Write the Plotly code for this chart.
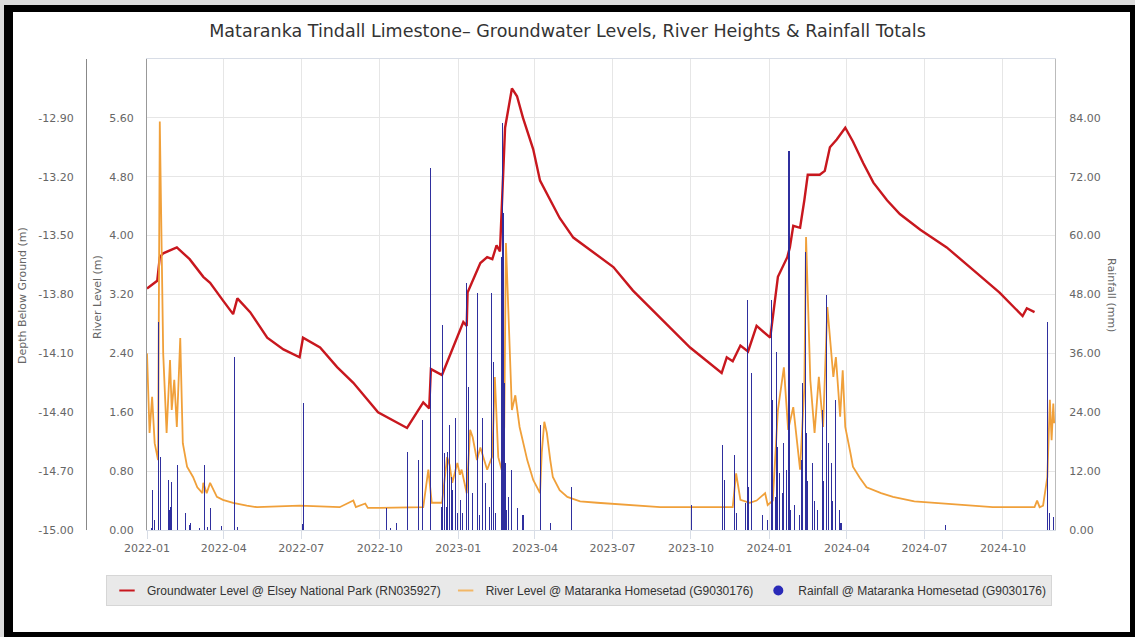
import plotly.graph_objects as go

# ---------------- data ----------------
gw_dates = [
    "2022-01-01", "2022-01-13", "2022-01-16", "2022-01-20", "2022-02-05", "2022-02-20",
    "2022-03-08", "2022-03-16", "2022-03-31", "2022-04-12", "2022-04-17", "2022-05-02",
    "2022-05-22", "2022-06-10", "2022-06-29", "2022-07-03", "2022-07-23", "2022-08-12",
    "2022-08-31", "2022-09-29", "2022-11-02", "2022-11-21", "2022-11-28", "2022-11-30",
    "2022-12-13", "2023-01-07", "2023-01-11", "2023-01-12", "2023-01-27", "2023-02-04",
    "2023-02-10", "2023-02-15", "2023-02-19", "2023-02-25", "2023-03-05", "2023-03-11",
    "2023-03-18", "2023-03-30", "2023-04-07", "2023-04-19", "2023-04-30", "2023-05-16",
    "2023-06-01", "2023-07-02", "2023-07-25", "2023-08-26", "2023-09-30", "2023-11-06",
    "2023-11-12", "2023-11-19", "2023-11-28", "2023-12-07", "2023-12-17", "2024-01-02",
    "2024-01-08", "2024-01-11", "2024-01-22", "2024-01-25", "2024-01-29", "2024-02-06",
    "2024-02-11", "2024-02-15", "2024-02-29", "2024-03-06", "2024-03-12", "2024-03-20",
    "2024-03-30", "2024-04-08", "2024-04-20", "2024-05-02", "2024-05-18", "2024-06-02",
    "2024-06-26", "2024-07-27", "2024-08-31", "2024-09-27", "2024-10-24", "2024-10-29",
    "2024-11-07",
]
gw_depth = [
    -13.77, -13.73, -13.61, -13.59, -13.56, -13.62,
    -13.71, -13.74, -13.83, -13.90, -13.82, -13.89,
    -14.02, -14.08, -14.12, -14.02, -14.07, -14.17,
    -14.25, -14.40, -14.48, -14.35, -14.38, -14.18,
    -14.21, -13.94, -13.96, -13.79, -13.64, -13.61,
    -13.62, -13.55, -13.58, -12.95, -12.75, -12.79,
    -12.90, -13.06, -13.22, -13.32, -13.41, -13.51,
    -13.56, -13.66, -13.78, -13.92, -14.07, -14.20,
    -14.12, -14.14, -14.06, -14.09, -13.96, -14.02,
    -13.83, -13.71, -13.61, -13.56, -13.45, -13.46,
    -13.32, -13.19, -13.19, -13.17, -13.05, -13.01,
    -12.95, -13.02, -13.13, -13.23, -13.32, -13.39,
    -13.47, -13.56, -13.69, -13.79, -13.91, -13.87,
    -13.89,
]

river_dates = [
    "2022-01-01", "2022-01-04", "2022-01-07", "2022-01-10", "2022-01-14", "2022-01-16",
    "2022-01-20", "2022-01-24", "2022-01-28", "2022-01-30", "2022-02-02", "2022-02-05",
    "2022-02-09", "2022-02-12", "2022-02-17", "2022-02-24", "2022-03-01", "2022-03-07",
    "2022-03-08", "2022-03-12", "2022-03-16", "2022-03-24", "2022-03-31", "2022-04-12",
    "2022-04-28", "2022-05-10", "2022-06-29", "2022-08-15", "2022-08-31", "2022-09-03",
    "2022-09-14", "2022-09-17", "2022-10-01", "2022-11-21", "2022-11-27", "2022-12-01",
    "2022-12-13", "2022-12-19", "2022-12-22", "2022-12-25", "2022-12-31", "2023-01-03",
    "2023-01-05", "2023-01-11", "2023-01-15", "2023-01-18", "2023-01-23", "2023-01-27",
    "2023-02-04", "2023-02-10", "2023-02-13", "2023-02-17", "2023-02-21", "2023-02-24",
    "2023-02-26", "2023-02-28", "2023-03-05", "2023-03-09", "2023-03-14", "2023-03-23",
    "2023-03-30", "2023-04-07", "2023-04-09", "2023-04-12", "2023-04-15", "2023-04-19",
    "2023-04-22", "2023-04-30", "2023-05-09", "2023-05-24", "2023-06-13", "2023-08-26",
    "2023-11-19", "2023-11-23", "2023-11-28", "2023-12-09", "2023-12-17", "2023-12-27",
    "2023-12-30", "2024-01-05", "2024-01-11", "2024-01-18", "2024-01-23", "2024-01-29",
    "2024-02-06", "2024-02-11", "2024-02-13", "2024-02-18", "2024-02-23", "2024-02-28",
    "2024-03-04", "2024-03-09", "2024-03-11", "2024-03-16", "2024-03-19", "2024-03-24",
    "2024-03-27", "2024-03-30", "2024-04-05", "2024-04-08", "2024-04-16", "2024-04-24",
    "2024-05-11", "2024-05-25", "2024-06-19", "2024-07-11", "2024-09-19", "2024-11-07",
    "2024-11-10", "2024-11-13", "2024-11-17", "2024-11-22", "2024-11-25", "2024-11-27",
    "2024-11-29", "2024-11-30",
]
river_level = [
    2.40, 1.32, 1.81, 1.18, 0.95, 5.55,
    2.40, 1.32, 2.31, 1.63, 2.04, 1.40,
    2.61, 1.18, 0.86, 0.72, 0.58, 0.50,
    0.64, 0.50, 0.64, 0.45, 0.41, 0.37,
    0.33, 0.31, 0.33, 0.31, 0.40, 0.31,
    0.36, 0.30, 0.30, 0.31, 0.82, 0.37,
    0.37, 0.99, 0.88, 0.64, 0.91, 0.75,
    0.82, 0.50, 1.36, 1.26, 0.95, 1.12,
    0.82, 1.00, 2.08, 0.99, 0.82, 1.40,
    3.90, 3.22, 1.63, 1.83, 1.40, 0.95,
    0.68, 0.50, 1.05, 1.47, 1.32, 0.95,
    0.72, 0.54, 0.45, 0.39, 0.37, 0.31,
    0.31, 0.77, 0.41, 0.37, 0.40, 0.50,
    0.34, 0.40, 1.63, 2.21, 1.36, 1.67,
    0.82, 1.94, 3.98, 2.04, 1.32, 2.08,
    1.40, 3.03, 2.76, 2.08, 2.35, 1.54,
    2.17, 1.40, 1.05, 0.86, 0.71, 0.58,
    0.50, 0.45, 0.39, 0.37, 0.31, 0.31,
    0.40, 0.31, 0.33, 0.72, 1.77, 1.22,
    1.72, 1.45,
]

rain_dates = [
    "2022-01-06", "2022-01-08", "2022-01-10", "2022-01-14", "2022-01-15", "2022-01-17",
    "2022-01-26", "2022-01-27", "2022-01-29", "2022-01-30", "2022-02-06", "2022-02-15",
    "2022-02-20", "2022-02-21", "2022-03-04", "2022-03-10", "2022-03-13", "2022-03-16",
    "2022-03-29", "2022-04-14", "2022-04-17", "2022-07-02", "2022-07-03", "2022-10-09",
    "2022-10-14", "2022-10-21", "2022-11-02", "2022-11-16", "2022-11-20", "2022-11-29",
    "2022-12-13", "2022-12-14", "2022-12-16", "2022-12-18", "2022-12-20", "2022-12-22",
    "2022-12-24", "2022-12-25", "2022-12-29", "2022-12-31", "2023-01-04", "2023-01-06",
    "2023-01-11", "2023-01-13", "2023-01-18", "2023-01-24", "2023-01-26", "2023-01-30",
    "2023-02-02", "2023-02-07", "2023-02-09", "2023-02-11", "2023-02-14", "2023-02-21",
    "2023-02-22", "2023-02-23", "2023-02-24", "2023-02-26", "2023-02-27", "2023-03-01",
    "2023-03-04", "2023-03-12", "2023-03-18", "2023-04-08", "2023-04-19", "2023-05-14",
    "2023-10-02", "2023-11-07", "2023-11-09", "2023-11-21", "2023-11-23", "2023-12-04",
    "2023-12-06", "2023-12-07", "2023-12-11", "2023-12-24", "2023-12-30", "2024-01-04",
    "2024-01-05", "2024-01-08", "2024-01-09", "2024-01-11", "2024-01-13", "2024-01-16",
    "2024-01-18", "2024-01-21", "2024-01-24", "2024-01-26", "2024-01-30", "2024-02-05",
    "2024-02-08", "2024-02-09", "2024-02-12", "2024-02-14", "2024-02-15", "2024-02-20",
    "2024-02-23", "2024-02-27", "2024-03-03", "2024-03-05", "2024-03-08", "2024-03-10",
    "2024-03-14", "2024-03-15", "2024-03-18", "2024-03-23", "2024-03-25", "2024-07-25",
    "2024-11-22", "2024-11-24", "2024-11-29",
]
rain_mm = [
    0.4, 8.1, 2.0, 42.4, 8.0, 14.9,
    10.2, 4.0, 4.7, 9.8, 13.2, 3.5,
    1.0, 1.4, 0.4, 13.2, 0.6, 4.5,
    0.8, 35.2, 0.6, 1.2, 25.9, 4.5,
    0.4, 1.4, 15.9, 14.3, 22.4, 73.8,
    4.7, 41.8, 15.7, 4.7, 15.9, 21.4,
    10.8, 8.1, 22.8, 3.5, 6.1, 3.5,
    50.3, 29.1, 7.5, 48.3, 3.0, 22.8,
    9.6, 4.7, 48.3, 34.2, 3.5, 55.6,
    82.9, 64.6, 30.0, 13.7, 4.1, 6.7,
    12.2, 4.5, 3.1, 21.4, 1.4, 8.8,
    5.1, 17.3, 10.2, 15.3, 3.5, 5.5,
    46.9, 8.8, 32.0, 3.0, 2.0, 46.9,
    26.5, 6.7, 36.3, 16.9, 11.6, 7.5,
    17.7, 12.2, 77.2, 4.0, 5.0, 3.0,
    14.3, 30.0, 56.6, 19.8, 10.0, 13.7,
    6.0, 4.0, 24.5, 10.0, 47.9, 17.7,
    13.7, 6.0, 26.5, 4.1, 1.4, 1.0,
    42.4, 3.5, 2.6,
]

x_tick_vals = [
    "2022-01-01", "2022-04-01", "2022-07-01", "2022-10-01", "2023-01-01", "2023-04-01",
    "2023-07-01", "2023-10-01", "2024-01-01", "2024-04-01", "2024-07-01", "2024-10-01",
]
x_tick_text = [
    "2022-01", "2022-04", "2022-07", "2022-10", "2023-01", "2023-04",
    "2023-07", "2023-10", "2024-01", "2024-04", "2024-07", "2024-10",
]
depth_ticks = [-15.0, -14.7, -14.4, -14.1, -13.8, -13.5, -13.2, -12.9]
river_ticks = [0.0, 0.8, 1.6, 2.4, 3.2, 4.0, 4.8, 5.6]
rain_ticks = [0, 12, 24, 36, 48, 60, 72, 84]

TITLE = "Mataranka Tindall Limestone\u2013 Groundwater Levels, River Heights & Rainfall Totals"
GW_NAME = "Groundwater Level @ Elsey National Park (RN035927)"
RIVER_NAME = "River Level @ Mataranka Homesetad (G9030176)"
RAIN_NAME = "Rainfall @ Mataranka Homesetad (G9030176)"

# ---------------- layout geometry ----------------
W, H = 1135, 637
ML, MR, MT, MB = 20, 80, 59, 107
PW, PH = W - ML - MR, H - MT - MB


def px(xp):
    return (xp - ML) / PW


def py(yp):
    return (H - MB - yp) / PH


RED = "#c8171e"
ORANGE = "#f0a03a"
NAVY = "rgba(40, 40, 155, 0.97)"
GRID = "#e6e6e6"
BASE_FONT = "DejaVu Sans, Verdana, sans-serif"
TICK_FONT = dict(family=BASE_FONT, size=11, color="#666666")
AX_TITLE_FONT = dict(family=BASE_FONT, size=11, color="#666666")

fig = go.Figure()

fig.add_trace(go.Scatter(
    x=gw_dates, y=gw_depth, name=GW_NAME, mode="lines",
    line=dict(color=RED, width=2.4), yaxis="y", showlegend=False,
))
fig.add_trace(go.Scatter(
    x=river_dates, y=river_level, name=RIVER_NAME, mode="lines",
    line=dict(color=ORANGE, width=1.8), yaxis="y2", showlegend=False,
))
fig.add_trace(go.Bar(
    x=rain_dates, y=rain_mm, name=RAIN_NAME, yaxis="y3",
    width=86400000 * 1.2, marker=dict(color=NAVY, line=dict(width=0)),
    showlegend=False,
))

# legend entries
fig.add_trace(go.Scatter(
    x=[None], y=[None], name=GW_NAME, mode="markers", yaxis="y",
    marker=dict(symbol="line-ew", size=11, line=dict(color=RED, width=2)),
))
fig.add_trace(go.Scatter(
    x=[None], y=[None], name=RIVER_NAME, mode="markers", yaxis="y",
    marker=dict(symbol="line-ew", size=11, line=dict(color="#f2b766", width=2)),
))
fig.add_trace(go.Scatter(
    x=[None], y=[None], name=RAIN_NAME, mode="markers", yaxis="y",
    marker=dict(symbol="circle", size=10, color="#2a2ab8"),
))

fig.update_layout(
    width=W, height=H,
    margin=dict(l=ML, r=MR, t=MT, b=MB),
    paper_bgcolor="white", plot_bgcolor="white",
    bargap=0,
    title=dict(
        text=TITLE, x=0.5, xref="container", xanchor="center",
        y=1 - 31 / H, yref="container", yanchor="middle",
        font=dict(family=BASE_FONT, size=17.5, color="#333333"),
    ),
    xaxis=dict(
        domain=[px(147), 1], type="date",
        range=["2022-01-01", "2024-12-01"],
        tickvals=x_tick_vals, ticktext=x_tick_text,
        tickfont=TICK_FONT, showgrid=True, gridcolor=GRID, gridwidth=1,
        showline=True, linecolor="#d8dde6", mirror=True,
        ticks="outside", ticklen=8, tickcolor="#d8dde6",
        zeroline=False, automargin=False,
    ),
    yaxis=dict(
        anchor="free", position=px(86), side="left",
        range=[-15.0, -12.6], tickvals=depth_ticks,
        ticktext=[f"-{abs(v):.2f}" for v in depth_ticks],
        tickfont=TICK_FONT, ticklabelstandoff=10,
        showgrid=True, gridcolor=GRID, zeroline=False,
        showline=True, linecolor="#888888", linewidth=1, automargin=False,
    ),
    yaxis2=dict(
        overlaying="y", anchor="x", side="left",
        range=[0, 6.4], tickvals=river_ticks,
        ticktext=[f"{v:.2f}" for v in river_ticks],
        tickfont=TICK_FONT, ticklabelstandoff=10,
        showgrid=False, zeroline=False,
        showline=True, linecolor="#999999", linewidth=1, automargin=False,
    ),
    yaxis3=dict(
        overlaying="y", anchor="x", side="right",
        range=[0, 96], tickvals=rain_ticks,
        ticktext=[f"{v:.2f}" for v in rain_ticks],
        tickfont=TICK_FONT, ticklabelstandoff=11,
        showgrid=False, zeroline=False,
        showline=True, linecolor="#bbbbbb", linewidth=1, automargin=False,
    ),
    legend=dict(
        orientation="h", x=px(579), xanchor="center", y=py(590.5), yanchor="middle",
        bgcolor="#e9e9e9", bordercolor="#d6d6d6", borderwidth=1,
        font=dict(family="Liberation Sans, Arial, sans-serif", size=12, color="#333333"),
        itemwidth=30,
    ),
    showlegend=True,
)

# axis titles
for label, xp, yp, angle in [
    ("Depth Below Ground (m)", 22, 296, -90),
    ("River Level (m)", 97, 297, -90),
    ("Rainfall (mm)", 1112, 295, 90),
]:
    fig.add_annotation(text=label, x=px(xp), y=py(yp), xref="paper", yref="paper",
                       xanchor="center", yanchor="middle",
                       textangle=angle, showarrow=False, font=AX_TITLE_FONT)


# page frame
def band(x0, y0, x1, y1, color):
    fig.add_shape(type="rect", xref="paper", yref="paper",
                  x0=px(x0), x1=px(x1), y0=py(y1), y1=py(y0),
                  fillcolor=color, line=dict(width=0), layer="above")


band(0, 0, 4, H, "#dcdcdc")
band(0, 0, W, 5, "#dcdcdc")
band(4, 5, 13, H, "black")
band(4, 5, W, 12, "black")
band(1130, 5, W, H, "black")
band(4, 632, W, H, "black")

fig.write_html("out.html")
